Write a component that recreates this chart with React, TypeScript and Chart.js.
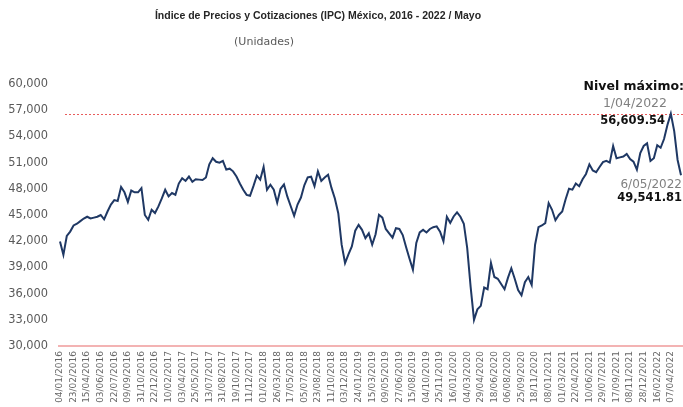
import React, { useEffect, useRef } from "react";
import { Chart, registerables } from "chart.js";

Chart.register(...registerables);

const titleText = "Índice de Precios y Cotizaciones (IPC) México, 2016 - 2022 / Mayo";
const subtitleText = "(Unidades)";

const tickLabels = [
  "04/01/2016", "23/02/2016", "15/04/2016", "03/06/2016", "22/07/2016", "09/09/2016",
  "31/10/2016", "22/12/2016", "10/02/2017", "03/04/2017", "25/05/2017", "13/07/2017",
  "31/08/2017", "19/10/2017", "11/12/2017", "01/02/2018", "26/03/2018", "17/05/2018",
  "05/07/2018", "23/08/2018", "11/10/2018", "03/12/2018", "24/01/2019", "15/03/2019",
  "09/05/2019", "27/06/2019", "15/08/2019", "04/10/2019", "25/11/2019", "16/01/2020",
  "04/03/2020", "29/04/2020", "18/06/2020", "06/08/2020", "25/09/2020", "18/11/2020",
  "08/01/2021", "01/03/2021", "22/04/2021", "10/06/2021", "29/07/2021", "17/09/2021",
  "08/11/2021", "28/12/2021", "16/02/2022", "07/04/2022",
];

// IPC level, ~4 readings between consecutive tick labels
const ipcValues = [
  41960, 40440, 42600, 43100, 43800, 44000, 44300, 44600, 44800, 44600,
  44700, 44800, 45000, 44500, 45400, 46200, 46700, 46600, 48200, 47600,
  46500, 47800, 47600, 47600, 48080, 45000, 44450, 45600, 45220, 45980,
  46900, 47890, 47130, 47510, 47320, 48600, 49200, 48900, 49400, 48800,
  49100, 49050, 49000, 49300, 50800, 51500, 51100, 51000, 51200, 50200,
  50300, 50000, 49400, 48600, 47900, 47300, 47200, 48300, 49500, 49040,
  50500, 47890, 48460, 47890, 46400, 48000, 48500, 47100, 46000, 44900,
  46200, 47000, 48400, 49300, 49400, 48300, 50000, 48900, 49300, 49600,
  48100, 46900, 45200, 41600, 39500, 40500, 41400, 43200, 43870, 43300,
  42350, 42900, 41600, 42800, 45020, 44700, 43400, 42900, 42400, 43490,
  43400, 42700, 41300, 40000, 38720, 41800, 43000, 43300, 43000, 43400,
  43600, 43700, 43100, 42000, 44800, 44100, 44830, 45300, 44800, 44000,
  41200, 36800, 33000, 34200, 34600, 36700, 36500, 39500, 37900, 37700,
  37100, 36500, 37800, 38900, 37700, 36400, 35800, 37300, 37900, 37000,
  41600, 43600, 43800, 44070, 46360, 45600, 44400, 45000, 45400, 46800,
  48000, 47900, 48600, 48300, 49100, 49700, 50800, 50100, 49900, 50500,
  51050, 51200, 51000, 52900, 51500, 51600, 51700, 52000, 51400, 51100,
  50200, 52100, 52900, 53200, 51200, 51500, 53000, 52700, 53700, 55300,
  56609.54, 54600, 51300, 49541.81,
];

const maxLabel = "Nivel máximo:";
const maxDate = "1/04/2022";
const maxLevel = 56609.54;
const lastDate = "6/05/2022";
const lastLevel = 49541.81;

const yMin = 30000;
const yMax = 60000;
const yStep = 3000;

const fmt2 = (v: number) =>
  v.toLocaleString("en-US", { minimumFractionDigits: 2, maximumFractionDigits: 2 });

export default function App() {
  const ref = useRef<HTMLCanvasElement>(null);

  useEffect(() => {
    document.body.style.margin = "0";
    const canvas = ref.current;
    if (!canvas) return;

    const labels = ipcValues.map((_, i) =>
      i % 4 === 0 && tickLabels[i / 4] !== undefined ? tickLabels[i / 4] : ""
    );

    const overlay = {
      id: "overlay",
      beforeDatasetsDraw(chart: any) {
        const { ctx } = chart;
        const y = chart.scales.y;
        ctx.save();
        const yb = Math.round(y.getPixelForValue(yMin));
        ctx.strokeStyle = "#F3B3B3";
        ctx.lineWidth = 2;
        ctx.beginPath();
        ctx.moveTo(58, yb);
        ctx.lineTo(683, yb);
        ctx.stroke();
        const ym = Math.round(y.getPixelForValue(maxLevel)) + 0.5;
        ctx.strokeStyle = "#E85C5C";
        ctx.lineWidth = 1;
        ctx.setLineDash([2, 2]);
        ctx.beginPath();
        ctx.moveTo(65, ym);
        ctx.lineTo(683, ym);
        ctx.stroke();
        ctx.restore();
      },
      afterDraw(chart: any) {
        const { ctx } = chart;
        ctx.save();
        ctx.textBaseline = "middle";
        ctx.textAlign = "center";
        ctx.fillStyle = "#262626";
        ctx.font = 'bold 10.5px "Liberation Sans"';
        ctx.fillText(titleText, 318, 16);
        ctx.fillStyle = "#595959";
        ctx.font = '11px "DejaVu Sans"';
        ctx.fillText(subtitleText, 264, 42);

        ctx.textAlign = "right";
        ctx.fillStyle = "#111111";
        ctx.font = 'bold 12.5px "DejaVu Sans"';
        ctx.fillText(maxLabel, 684, 87);
        ctx.fillStyle = "#808080";
        ctx.font = '12.5px "DejaVu Sans"';
        ctx.fillText(maxDate, 667, 104);
        ctx.fillStyle = "#111111";
        ctx.font = 'bold 11.5px "DejaVu Sans"';
        ctx.fillText(fmt2(maxLevel), 665, 121);

        ctx.fillStyle = "#808080";
        ctx.font = '12px "DejaVu Sans"';
        ctx.fillText(lastDate, 682, 185);
        ctx.fillStyle = "#111111";
        ctx.font = 'bold 11.5px "DejaVu Sans"';
        ctx.fillText(fmt2(lastLevel), 682, 198);
        ctx.restore();
      },
    };

    const chart = new Chart(canvas, {
      type: "line",
      data: {
        labels,
        datasets: [
          {
            data: ipcValues,
            borderColor: "#1F3864",
            borderWidth: 2,
            pointRadius: 0,
            tension: 0,
            fill: false,
          },
        ],
      },
      options: {
        responsive: false,
        animation: false,
        plugins: { legend: { display: false }, tooltip: { enabled: false }, title: { display: false } },
        layout: { padding: { top: 84, right: 2, left: 0, bottom: 0 } },
        scales: {
          x: {
            grid: { display: false, drawTicks: false },
            border: { display: false },
            ticks: {
              autoSkip: false,
              maxRotation: 90,
              minRotation: 90,
              padding: 5,
              color: "#666666",
              font: { family: "DejaVu Sans", size: 9 },
            },
            afterFit(s: any) {
              s.height = 61;
              s.paddingLeft = 0;
              s.paddingRight = 0;
            },
          },
          y: {
            min: yMin,
            max: yMax,
            grid: { display: false, drawTicks: false },
            border: { display: false },
            ticks: {
              stepSize: yStep,
              padding: 12,
              color: "#595959",
              font: { family: "DejaVu Sans", size: 11.4 },
              callback: (v: any) => Number(v).toLocaleString("en-US"),
            },
            afterFit(s: any) {
              s.width = 60;
              s.paddingTop = 0;
              s.paddingBottom = 0;
            },
          },
        },
      },
      plugins: [overlay],
    });

    return () => chart.destroy();
  }, []);

  return (
    <div style={{ position: "absolute", left: 0, top: 0, width: 683, height: 407, background: "#fff" }}>
      <canvas ref={ref} width={683} height={407} style={{ width: 683, height: 407, display: "block" }} />
    </div>
  );
}
